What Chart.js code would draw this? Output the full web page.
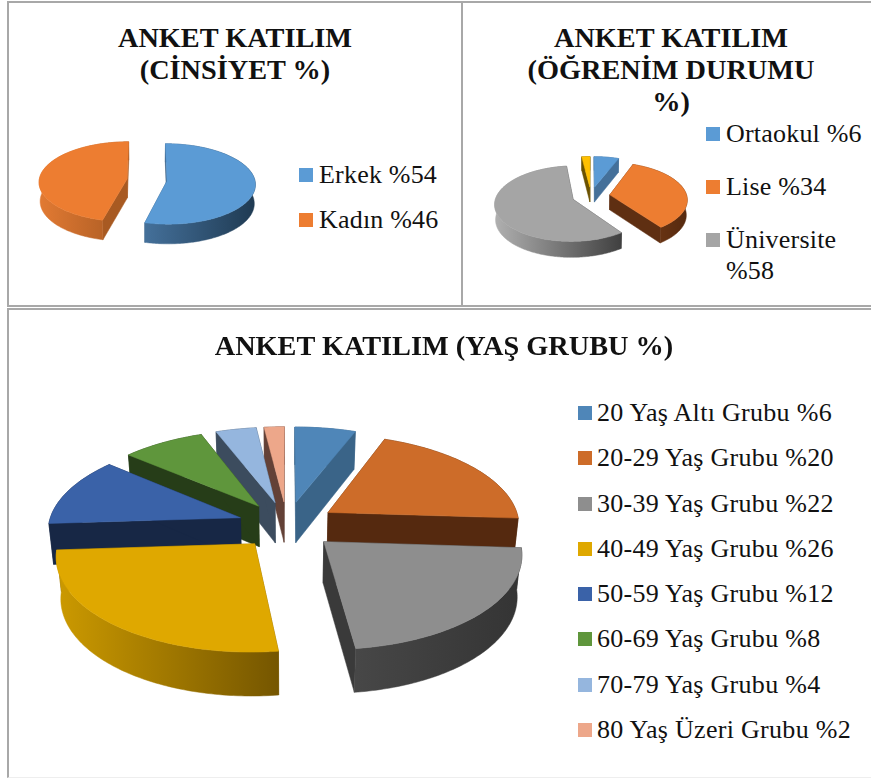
<!DOCTYPE html>
<html>
<head>
<meta charset="utf-8">
<script src="https://cdn.jsdelivr.net/npm/chart.js@4"></script>
<style>
	html, body { margin: 0; padding: 0; background: #fff; }
	body { position: relative; width: 871px; height: 778px; overflow: hidden; font-family: "Liberation Serif", serif; color: #111; }
	.panel { position: absolute; box-sizing: border-box; border: 2px solid #a8a8a8; }
	canvas { position: absolute; }
	.title { position: absolute; font-weight: bold; font-size: 28.3px; line-height: 32px; text-align: center; white-space: nowrap; }
	.swatch { position: absolute; width: 14px; height: 14px; }
	.label { position: absolute; line-height: 28px; white-space: nowrap; }
</style>
</head>
<body>
<div class="panel" style="left:7px;top:1px;width:456px;height:306px"></div>
<div class="panel" style="left:461px;top:1px;width:412px;height:306px"></div>
<div class="panel" style="left:7px;top:308px;width:866px;height:470px;border-bottom:1px solid #eee"></div>
<canvas id="gender_chart" width="240" height="140" style="left:27px;top:110px"></canvas>
<canvas id="education_chart" width="220" height="140" style="left:481px;top:126px"></canvas>
<canvas id="age_chart" width="520" height="360" style="left:27px;top:345px"></canvas>

<script>
// data
const gender_labels = ["Erkek %54", "Kadın %46"];
const gender_values = [54, 46];
const gender_top = ["#5B9BD5", "#ED7D31"];
const gender_side = ["#2F5578", "#A85A22"];
const gender_outer = [["#44709A", "#1F3A52"], ["#E27A33", "#A85A22"]];

// the yellow slice has no legend entry in the original
const education_labels = ["Ortaokul %6", "Lise %34", ["Üniversite", "%58"], ""];
const education_values = [6, 34, 58, 2];
const education_top = ["#5B9BD5", "#ED7D31", "#A5A5A5", "#FFC000"];
const education_side = ["#44709A", "#5F2F12", "#454545", "#6B5200"];
const education_outer = [["#44709A", "#44709A"], ["#7A3D16", "#55290F"], ["#B0B0B0", "#404040"], ["#6B5200", "#6B5200"]];

const age_labels = [
	"20 Yaş Altı Grubu %6",
	"20-29 Yaş Grubu %20",
	"30-39 Yaş Grubu %22",
	"40-49 Yaş Grubu %26",
	"50-59 Yaş Grubu %12",
	"60-69 Yaş Grubu %8",
	"70-79 Yaş Grubu %4",
	"80 Yaş Üzeri Grubu %2",
];
const age_values = [6, 20, 22, 26, 12, 8, 4, 2];
const age_top = ["#4F86B8", "#CD6C29", "#8E8E8E", "#DFA800", "#3A62A8", "#5F963C", "#95B6DE", "#EDA78A"];
const age_side = ["#3A6488", "#55290F", "#3A3A3A", "#7A5A00", "#172745", "#263D18", "#3C4C5E", "#634137"];
const age_outer = [
	["#3A6488", "#3A6488"],
	["#55290F", "#55290F"],
	["#474747", "#343434"],
	["#CC9A00", "#755600"],
	["#172745", "#172745"],
	["#263D18", "#263D18"],
	["#3C4C5E", "#3C4C5E"],
	["#634137", "#634137"],
];

// fake 3d: takes the arcs chart.js worked out and tilts them
const pie3d = {
	id: "pie3d",
	beforeDatasetDraw(chart) {
		const view = chart.options.plugins.pie3d;
		const arcs = chart.getDatasetMeta(0).data;
		const ctx = chart.ctx;

		const project = (arc, x, y, z) => {
			const s = 1 + view.persp * y;
			const f = 1 - z * view.shrink;
			return [
				arc.x + x * s * f,
				arc.y + y * view.ratio * s + z * view.depth * Math.sqrt(s),
			];
		};

		const fill = (points, style) => {
			ctx.beginPath();
			points.forEach((p, i) => (i ? ctx.lineTo(p[0], p[1]) : ctx.moveTo(p[0], p[1])));
			ctx.closePath();
			ctx.fillStyle = style;
			ctx.strokeStyle = style;
			ctx.lineWidth = 0.5;
			ctx.fill();
			ctx.stroke();
		};

		const slices = arcs.map((arc, i) => {
			const mid = (arc.startAngle + arc.endAngle) / 2;
			const off = arc.options.offset;
			const ax = Math.cos(mid) * off;
			const ay = Math.sin(mid) * off;
			const rim = [];
			const steps = Math.ceil(((arc.endAngle - arc.startAngle) * 180) / Math.PI);
			for (let k = 0; k <= steps; k++) {
				const a = arc.startAngle + ((arc.endAngle - arc.startAngle) * k) / steps;
				rim.push([ax + Math.cos(a) * arc.outerRadius, ay + Math.sin(a) * arc.outerRadius]);
			}
			return { arc, i, ax, ay, rim };
		});

		// back slices first
		slices.sort((a, b) => a.ay - b.ay);

		slices.forEach(({ arc, i, ax, ay, rim }) => {
			const first = rim[0];
			const last = rim[rim.length - 1];
			const wall = (p, q) => [
				project(arc, p[0], p[1], 0),
				project(arc, q[0], q[1], 0),
				project(arc, q[0], q[1], 1),
				project(arc, p[0], p[1], 1),
			];
			fill(wall([ax, ay], first), view.side[i]);
			fill(wall([ax, ay], last), view.side[i]);

			const rim_top = rim.map((p) => project(arc, p[0], p[1], 0));
			const rim_bottom = rim.map((p) => project(arc, p[0], p[1], 1)).reverse();
			const xs = rim_top.map((p) => p[0]);
			const grad = ctx.createLinearGradient(Math.min(...xs), 0, Math.max(...xs), 0);
			grad.addColorStop(0, view.outer[i][0]);
			grad.addColorStop(1, view.outer[i][1]);
			fill(rim_top.concat(rim_bottom), grad);

			fill([project(arc, ax, ay, 0)].concat(rim_top), arc.options.backgroundColor);
		});
		return false;
	},
};

function makePie(id, values, colors, side, outer, radius, offset, view) {
	new Chart(document.getElementById(id), {
		type: "pie",
		plugins: [pie3d],
		data: {
			labels: values.map((v, i) => i),
			datasets: [{ data: values, backgroundColor: colors, borderWidth: 0, offset: offset }],
		},
		options: {
			responsive: false,
			animation: false,
			radius: radius,
			layout: { padding: 0 },
			plugins: {
				legend: { display: false },
				tooltip: { enabled: false },
				pie3d: Object.assign({ side: side, outer: outer }, view),
			},
		},
	});
}

makePie("gender_chart", gender_values, gender_top, gender_side, gender_outer, 88, 20,
	{ ratio: 0.455, persp: 0.0008, depth: 19, shrink: 0.01 });
makePie("education_chart", education_values, education_top, education_side, education_outer, 77, 19,
	{ ratio: 0.48, persp: 0.0015, depth: 15, shrink: 0.01 });
makePie("age_chart", age_values, age_top, age_side, age_outer, 192, 49.4,
	{ ratio: 0.4815, persp: 0.00064, depth: 41, shrink: 0.02 });

// titles and legends
function addTitle(lines, center, top) {
	const el = document.createElement("div");
	el.className = "title";
	el.style.left = center - 300 + "px";
	el.style.width = "600px";
	el.style.top = top + "px";
	el.innerHTML = lines.join("<br>");
	document.body.appendChild(el);
}

function addLegend(labels, colors, x, text_x, first_y, rows_y, size, spacing) {
	labels.forEach((label, i) => {
		if (!label) return;
		const y = rows_y[i];
		const box = document.createElement("div");
		box.className = "swatch";
		box.style.left = x + "px";
		box.style.top = y + "px";
		box.style.background = colors[i];
		document.body.appendChild(box);

		const lines = Array.isArray(label) ? label : [label];
		lines.forEach((line, k) => {
			const el = document.createElement("div");
			el.className = "label";
			el.style.left = text_x + "px";
			el.style.top = y + first_y + k * 31 + "px";
			el.style.fontSize = size + "px";
			el.style.letterSpacing = spacing + "px";
			el.textContent = line;
			document.body.appendChild(el);
		});
	});
}

addTitle(["ANKET KATILIM", "(CİNSİYET %)"], 235, 22);
addTitle(["ANKET KATILIM", "(ÖĞRENİM DURUMU", "%)"], 671, 22);
addTitle(["ANKET KATILIM (YAŞ GRUBU %)"], 444, 330);

addLegend(gender_labels, gender_top, 299, 319, -7, [168, 213], 26, 0.2);
addLegend(education_labels, education_top, 706, 726, -7, [127, 180, 233], 26, 0.2);
addLegend(age_labels, age_top, 578, 597, -7, [406, 451, 497, 542, 587, 632, 678, 723], 26, 0.3);
</script>
</body>
</html>
